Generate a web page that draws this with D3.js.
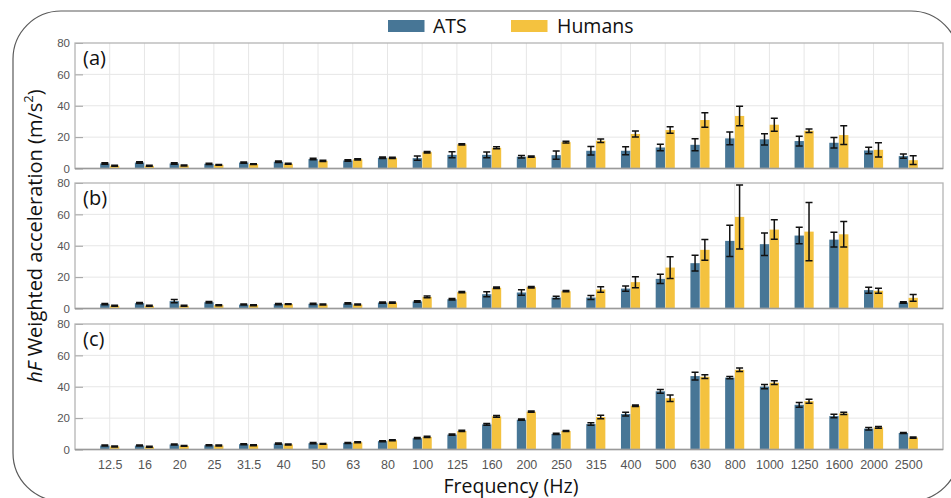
<!DOCTYPE html>
<html>
<head>
<meta charset="utf-8">
<script src="https://cdn.jsdelivr.net/npm/d3@7"></script>
<style>
  html, body { margin: 0; padding: 0; background: #fff; }
  svg { display: block; }
</style>
</head>
<body>
<svg id="chart" width="951" height="498"></svg>
<script>
// ---------------- data ----------------
const frequencies = ["12.5","16","20","25","31.5","40","50","63","80","100","125","160","200","250","315","400","500","630","800","1000","1250","1600","2000","2500"];
const yTicks = [0, 20, 40, 60, 80];
const seriesNames = ["ATS", "Humans"];
const panelLabels = ["(a)", "(b)", "(c)"];

// panel (a)
const atsA      = [3.2,3.8,3.2,3.0,3.8,4.3,6.0,5.1,6.8,6.6,8.7,8.7,7.5,8.5,11.3,11.3,13.4,15.1,19.2,18.6,17.5,16.4,11.5,7.9];
const atsErrA   = [0.5,0.5,0.5,0.4,0.4,0.5,0.5,0.5,0.5,1.3,1.9,1.8,0.8,2.6,2.7,2.5,2.1,3.8,4.0,3.6,3.1,3.3,2.1,1.3];
const humA      = [1.7,1.7,1.9,2.3,2.8,3.0,4.9,5.8,6.8,10.4,15.4,13.2,7.5,16.8,17.7,22.0,24.5,30.9,33.5,27.9,24.1,21.3,11.9,5.3];
const humErrA   = [0.3,0.3,0.3,0.3,0.3,0.3,0.4,0.4,0.4,0.5,0.4,0.6,0.4,0.6,1.1,1.9,2.1,4.6,6.2,4.2,1.1,6.0,4.5,2.8];
// panel (b)
const atsB      = [2.8,3.4,4.7,4.0,2.5,2.8,3.0,3.2,3.8,4.5,5.9,9.1,10.2,7.0,7.0,12.7,18.9,28.9,43.1,41.0,46.5,43.9,11.7,3.8];
const atsErrB   = [0.4,0.4,1.0,0.5,0.3,0.4,0.4,0.4,0.4,0.5,0.5,1.6,1.8,0.8,1.3,1.7,3.0,5.0,9.9,7.2,5.3,4.7,1.9,0.5];
const humB      = [1.7,1.7,1.7,2.1,2.1,2.8,2.5,2.5,3.8,7.4,10.4,13.2,13.6,11.0,12.1,16.8,26.1,37.4,58.4,50.3,49.0,47.3,11.3,6.8];
const humErrB   = [0.3,0.3,0.3,0.3,0.3,0.3,0.3,0.3,0.4,0.5,0.4,0.5,0.5,0.4,1.7,3.5,6.9,6.6,20.4,6.2,18.6,8.1,1.6,2.2];
// panel (c)
const atsC      = [2.5,2.5,3.2,2.7,3.4,3.8,4.0,4.2,5.3,7.2,9.5,16.0,19.0,9.9,16.2,22.6,37.1,46.8,45.8,40.1,28.5,21.3,13.3,10.5];
const atsErrC   = [0.3,0.3,0.3,0.3,0.3,0.4,0.4,0.3,0.3,0.4,0.4,0.5,0.4,0.4,0.8,1.2,1.2,2.5,0.7,1.4,1.5,1.1,0.8,0.3];
const humC      = [1.9,1.7,2.3,2.5,2.7,3.2,3.6,4.6,5.9,8.0,11.8,21.1,24.1,11.8,20.7,27.9,32.7,46.4,50.8,42.6,30.8,23.0,14.1,7.6];
const humErrC   = [0.3,0.3,0.3,0.3,0.3,0.3,0.3,0.3,0.3,0.4,0.4,0.5,0.4,0.3,1.1,0.5,2.1,1.2,1.1,1.2,1.3,0.7,0.5,0.4];

// ---------------- layout ----------------
const colors = { ATS: "#477696", Humans: "#f4c23f" };
const plotLeft = 75, plotRight = 943;
const panelTops = [43, 183, 324];
const panelHeight = 125.5;

const panels = [
  { label: panelLabels[0], ats: atsA, atsErr: atsErrA, hum: humA, humErr: humErrA },
  { label: panelLabels[1], ats: atsB, atsErr: atsErrB, hum: humB, humErr: humErrB },
  { label: panelLabels[2], ats: atsC, atsErr: atsErrC, hum: humC, humErr: humErrC }
];

const svg = d3.select("#chart");

// outer rounded frame
svg.append("rect")
  .attr("x", 13).attr("y", 11).attr("width", 946).attr("height", 490)
  .attr("rx", 48).attr("ry", 48)
  .attr("fill", "none").attr("stroke", "#5a5a5a").attr("stroke-width", 1.2);

const x = d3.scalePoint().domain(frequencies).range([plotLeft, plotRight]).padding(1);
const barW = 9.3, gap = 0.25, capW = 7;

const tickFont = "'Liberation Sans', Arial, sans-serif";
const narrowFont = "'Liberation Sans Narrow', 'Liberation Sans', Arial, sans-serif";
const labelFont = "'Open Sans', 'Noto Sans', sans-serif";

panels.forEach((p, pi) => {
  const top = panelTops[pi];
  const bottom = top + panelHeight;
  const y = d3.scaleLinear().domain([0, 80]).range([bottom, top]);
  const g = svg.append("g");

  g.append("rect").attr("x", plotLeft).attr("y", top)
    .attr("width", plotRight - plotLeft).attr("height", panelHeight)
    .attr("fill", "#fff");

  // vertical gridlines
  g.append("g").selectAll("line").data(frequencies).join("line")
    .attr("x1", d => x(d)).attr("x2", d => x(d))
    .attr("y1", top).attr("y2", bottom)
    .attr("stroke", "#e6e6e6").attr("stroke-width", 1);

  // horizontal gridlines
  g.append("g").selectAll("line").data(yTicks.slice(1, -1)).join("line")
    .attr("x1", plotLeft).attr("x2", plotRight)
    .attr("y1", d => y(d)).attr("y2", d => y(d))
    .attr("stroke", "#e6e6e6").attr("stroke-width", 1);

  // y axis (inward ticks)
  const yAxis = d3.axisLeft(y).tickValues(yTicks).tickSize(-8).tickPadding(12);
  const ya = g.append("g").attr("transform", `translate(${plotLeft},0)`).call(yAxis);
  ya.select(".domain").remove();
  ya.selectAll(".tick line").attr("stroke", "#a0a0a0");
  ya.selectAll(".tick text").attr("font-family", tickFont).attr("font-size", 11.5)
    .attr("fill", "#555").attr("x", -5);

  // bars
  const idx = d3.range(frequencies.length);
  g.append("g").selectAll("rect").data(idx).join("rect")
    .attr("x", i => x(frequencies[i]) - gap - barW)
    .attr("width", barW)
    .attr("y", i => y(p.ats[i]))
    .attr("height", i => y(0) - y(p.ats[i]))
    .attr("fill", colors.ATS);
  g.append("g").selectAll("rect").data(idx).join("rect")
    .attr("x", i => x(frequencies[i]) + gap)
    .attr("width", barW)
    .attr("y", i => y(p.hum[i]))
    .attr("height", i => y(0) - y(p.hum[i]))
    .attr("fill", colors.Humans);

  // error bars
  const errData = [];
  idx.forEach(i => {
    errData.push({ cx: x(frequencies[i]) - gap - barW / 2, v: p.ats[i], e: p.atsErr[i] });
    errData.push({ cx: x(frequencies[i]) + gap + barW / 2, v: p.hum[i], e: p.humErr[i] });
  });
  const eg = g.append("g").attr("stroke", "#111").attr("fill", "none");
  eg.selectAll("path").data(errData).join("path")
    .attr("d", d => {
      const y1 = y(d.v + d.e), y2 = y(Math.max(0, d.v - d.e));
      return `M${d.cx},${y1}V${y2}` +
        `M${d.cx - capW / 2},${y1}H${d.cx + capW / 2}` +
        `M${d.cx - capW / 2},${y2}H${d.cx + capW / 2}`;
    })
    .attr("stroke-width", 1.5);

  // plot border
  g.append("rect").attr("x", plotLeft).attr("y", top)
    .attr("width", plotRight - plotLeft).attr("height", panelHeight)
    .attr("fill", "none").attr("stroke", "#b4b4b4").attr("stroke-width", 1.3);
  g.append("line").attr("x1", plotLeft).attr("x2", plotRight)
    .attr("y1", bottom).attr("y2", bottom)
    .attr("stroke", "#9a9a9a").attr("stroke-width", 1.4);

  // panel label
  g.append("text").attr("x", 83).attr("y", top + 22)
    .attr("font-family", labelFont).attr("font-size", 20).attr("fill", "#111")
    .text(p.label);

  // x axis labels on last panel
  if (pi === panels.length - 1) {
    const xAxis = d3.axisBottom(x).tickSize(0).tickPadding(12);
    const xa = g.append("g").attr("transform", `translate(0,${bottom})`).call(xAxis);
    xa.select(".domain").remove();
    xa.selectAll(".tick text").attr("font-family", narrowFont).attr("font-size", 12.5)
      .attr("fill", "#555").attr("dy", 0).attr("y", 19.5);
  }
});

// legend
const legend = svg.append("g");
const legendItems = [
  { name: seriesNames[0], sx: 388, tx: 433 },
  { name: seriesNames[1], sx: 511, tx: 557 }
];
legendItems.forEach(it => {
  legend.append("rect").attr("x", it.sx).attr("y", 20).attr("width", 36.5).attr("height", 12)
    .attr("fill", colors[it.name]);
  legend.append("text").attr("x", it.tx).attr("y", 33)
    .attr("font-family", labelFont).attr("font-size", 19.5).attr("fill", "#111")
    .text(it.name);
});

// axis titles
svg.append("text")
  .attr("x", (plotLeft + plotRight) / 2 + 2).attr("y", 492.5)
  .attr("text-anchor", "middle")
  .attr("font-family", labelFont).attr("font-size", 19.5).attr("fill", "#111")
  .text("Frequency (Hz)");

const yTitle = svg.append("text")
  .attr("transform", "translate(42,236) rotate(-90)")
  .attr("text-anchor", "middle")
  .attr("font-family", labelFont).attr("font-size", 20).attr("fill", "#111");
yTitle.append("tspan").attr("font-style", "italic").text("hF");
yTitle.append("tspan").text(" Weighted acceleration (m/s");
yTitle.append("tspan").attr("baseline-shift", "super").attr("font-size", 13).text("2");
yTitle.append("tspan").text(")");
</script>
</body>
</html>
